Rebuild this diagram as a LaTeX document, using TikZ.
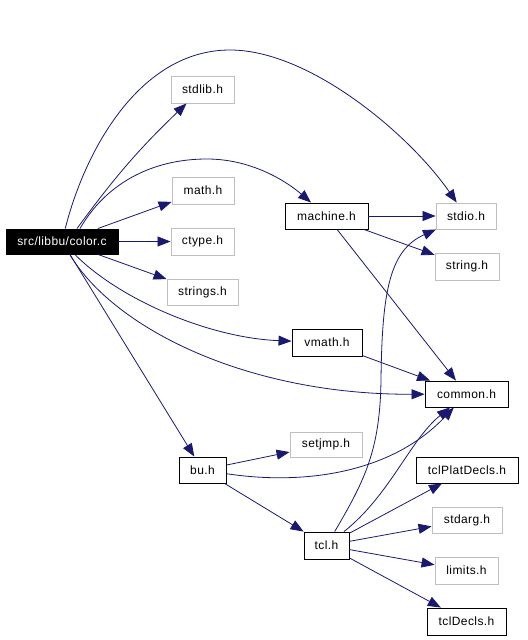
\documentclass[tikz,border=0pt]{standalone}
\usepackage{fontspec}
\setmainfont{Liberation Sans}[LetterSpace=3.5]
\usetikzlibrary{arrows.meta}
\definecolor{edgeblue}{HTML}{191970}
\definecolor{boxgray}{HTML}{BFBFBF}
\tikzset{
  nodebox/.style={draw=black, line width=0.9bp, inner sep=0pt, font=\fontsize{12bp}{14bp}\selectfont},
  graybox/.style={nodebox, draw=boxgray},
  mainbox/.style={nodebox, fill=black, text=white},
  dep/.style={draw=edgeblue, line width=0.8bp, -{Triangle[length=13bp,width=10bp]}, fill=none},
}
\begin{document}
\begin{tikzpicture}[x=1bp,y=-1bp]
\useasboundingbox (0,0) rectangle (528,640);
% nodes
\node[mainbox, minimum width=112bp, minimum height=25bp] (colorc) at (62,241.5) {src/libbu/color.c};
\node[graybox, minimum width=63bp, minimum height=27bp] (stdlib) at (202.5,89.5) {stdlib.h};
\node[graybox, minimum width=62bp, minimum height=27bp] (math) at (203,190.5) {math.h};
\node[graybox, minimum width=63bp, minimum height=27bp] (ctype) at (202.5,241.5) {ctype.h};
\node[graybox, minimum width=71bp, minimum height=26bp] (strings) at (202.5,292) {strings.h};
\node[nodebox, minimum width=83bp, minimum height=26bp] (machine) at (326.5,216) {machine.h};
\node[graybox, minimum width=60bp, minimum height=26bp] (stdio) at (466,216) {stdio.h};
\node[graybox, minimum width=64bp, minimum height=27bp] (string) at (467,266.5) {string.h};
\node[nodebox, minimum width=70bp, minimum height=27bp] (vmath) at (327,342.5) {vmath.h};
\node[nodebox, minimum width=83bp, minimum height=26bp] (common) at (466.5,394) {common.h};
\node[graybox, minimum width=72bp, minimum height=25bp] (setjmp) at (326,444.5) {setjmp.h};
\node[nodebox, minimum width=47bp, minimum height=26bp] (bu) at (202.5,470) {bu.h};
\node[nodebox, minimum width=102bp, minimum height=26bp] (tclplat) at (467,470) {tclPlatDecls.h};
\node[graybox, minimum width=70bp, minimum height=26bp] (stdarg) at (467,520) {stdarg.h};
\node[nodebox, minimum width=45bp, minimum height=27bp] (tcl) at (326.5,545.5) {tcl.h};
\node[graybox, minimum width=63bp, minimum height=27bp] (limits) at (466.5,570.5) {limits.h};
\node[nodebox, minimum width=79bp, minimum height=27bp] (tcldecls) at (466.5,621.5) {tclDecls.h};
% edges from color.c
\draw[dep] ([xshift=15bp]colorc.north) to[bend left=5] ([xshift=-16bp]stdlib.south);
\draw[dep] (colorc) .. controls (85,150) and (140,50) .. (230,50)
                    .. controls (310,50) and (410,135) .. (stdio);
\draw[dep] ([xshift=18bp]colorc.north) .. controls (105,185) and (150,159) .. (207,159)
                    .. controls (250,159) and (285,180) .. (machine);
\draw[dep] (colorc) -- (math);
\draw[dep] (colorc) -- (ctype);
\draw[dep] (colorc) -- (strings);
\draw[dep] (colorc) .. controls (120,300) and (210,338) .. (vmath);
\draw[dep] (colorc) .. controls (115,330) and (250,395) .. (common);
\draw[dep] (colorc) -- (bu);
% machine.h
\draw[dep] (machine) -- (stdio);
\draw[dep] (machine) -- (string);
\draw[dep] (machine) -- (common);
% vmath.h
\draw[dep] (vmath) -- (common);
% bu.h
\draw[dep] (bu) -- (setjmp);
\draw[dep] (bu) .. controls (300,485) and (390,475) .. (common);
\draw[dep] (bu) -- (tcl);
% tcl.h
\draw[dep] (tcl) .. controls (365,480) and (380,450) .. (381,380)
                 .. controls (382,290) and (390,250) .. (stdio);
\draw[dep] (tcl) .. controls (390,495) and (410,440) .. (common);
\draw[dep] (tcl) -- (tclplat);
\draw[dep] (tcl) -- (stdarg);
\draw[dep] (tcl) -- (limits);
\draw[dep] (tcl) -- (tcldecls);
\end{tikzpicture}
\end{document}
